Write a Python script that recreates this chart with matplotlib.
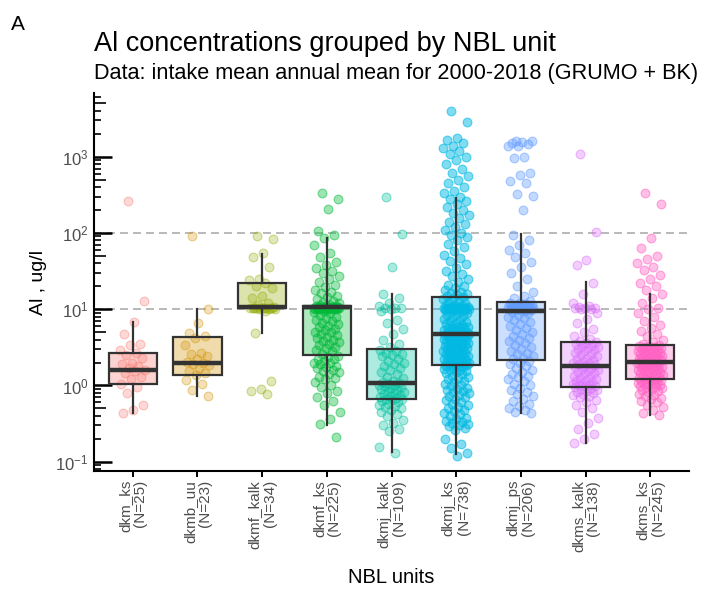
import numpy as np
import matplotlib.pyplot as plt
import matplotlib.colors as mcolors
from matplotlib.ticker import LogLocator, NullLocator, NullFormatter

plt.rcParams['font.family'] = ['Liberation Sans', 'DejaVu Sans']
plt.rcParams['mathtext.default'] = 'regular'

units = ["dkm_ks", "dkmb_uu", "dkmf_kalk", "dkmf_ks", "dkmj_kalk",
         "dkmj_ks", "dkmj_ps", "dkms_kalk", "dkms_ks"]
n_obs = [25, 23, 34, 225, 109, 738, 206, 138, 245]
colors = ["#F8766D", "#D39200", "#93AA00", "#00BA38", "#00C19F",
          "#00B9E3", "#619CFF", "#DB72FB", "#FF61C3"]

# box statistics (ug/l)
q1 = [1.04, 1.39, 10.3, 2.52, 0.655, 1.83, 2.15, 0.96, 1.20]
med = [1.59, 2.00, 10.6, 10.6, 1.08, 4.67, 9.5, 1.81, 2.04]
q3 = [2.65, 4.26, 21.8, 11.0, 3.02, 14.3, 12.4, 3.73, 3.38]
whislo = [0.44, 0.73, 4.9, 0.30, 0.134, 0.128, 0.44, 0.174, 0.41]
whishi = [6.7, 10.2, 52.8, 85, 15.7, 284, 95.6, 22.5, 16.0]

# observations (approximate readings, ug/l)
al_dkm_ks = [261, 12.8, 6.8, 4.75, 3.5, 3.4, 2.9, 2.7, 2.5, 2.3, 2.0, 1.9, 1.8,
             1.7, 1.6, 1.55, 1.45, 1.3, 1.2, 1.05, 0.95, 0.8, 0.55, 0.48, 0.44]
al_dkmb_uu = [92, 10.2, 6.6, 4.9, 4.4, 4.2, 3.4, 2.7, 2.6, 2.4, 2.2, 2.05, 2.0,
              1.9, 1.85, 1.7, 1.55, 1.45, 1.38, 1.17, 1.05, 0.87, 0.73]
al_dkmf_kalk = [91, 83, 55, 48, 36, 25, 24, 22, 20, 19, 15, 14, 12, 11.5, 10.6,
                10.5, 10.5, 10.5, 10.5, 10.5, 10.5, 10.5, 10.5, 10.4, 10.3, 10.2,
                10.2, 10.0, 9.5, 4.9, 1.15, 0.9, 0.85, 0.77]
al_dkmf_ks = [330, 277, 208, 107, 95, 85, 70, 55, 48, 42, 38, 35, 32, 30, 27, 25,
              23, 21, 19.6, 18, 17, 16.5, 15, 14.5, 13.5, 13, 12.5, 12, 11.5, 11.2,
              11, 11, 10.9, 10.8, 10.8, 10.7, 10.7, 10.6, 10.6, 10.6, 10.5, 10.5,
              10.5, 10.5, 10.5, 10.5, 10.5, 10.5, 10.4, 10.4, 10.3, 10.3, 10.2,
              10.2, 10.1, 10.1, 10.0, 10.0, 10.0, 10.0,
              9.6, 9.1, 8.8, 8.3, 8.0, 7.7, 7.2, 7.0, 6.6, 6.4, 6.0, 5.9, 5.5, 5.4,
              5.1, 5.0, 4.7, 4.6, 4.3, 4.2, 4.0, 3.8, 3.7, 3.5, 3.4, 3.2, 3.1, 2.9,
              2.8, 2.6,
              2.45, 2.35, 2.25, 2.2, 2.1, 2.0, 1.95, 1.9, 1.8, 1.75, 1.7, 1.6, 1.55,
              1.5, 1.4, 1.3, 1.25, 1.2, 1.1, 1.0, 0.95, 0.85, 0.8, 0.7, 0.62, 0.55,
              0.45, 0.36, 0.31, 0.21]
al_dkmj_kalk = [293, 96, 36, 16, 14, 12, 11, 10.5, 10.5, 10.4, 10, 9.5, 7.2, 6.5,
                5.5, 4.7, 4.0, 3.5, 3.2,
                2.9, 2.8, 2.7, 2.6, 2.5, 2.4, 2.2, 2.1, 2.0, 1.9, 1.8, 1.7, 1.6,
                1.5, 1.4, 1.3, 1.25, 1.15, 1.1,
                1.07, 1.05, 1.03, 1.0, 0.98, 0.95, 0.93, 0.9, 0.88, 0.85, 0.82, 0.8,
                0.78, 0.75, 0.73, 0.7, 0.68, 0.67, 0.66,
                0.64, 0.62, 0.6, 0.58, 0.56, 0.54, 0.52, 0.5, 0.48, 0.45, 0.42, 0.4,
                0.35, 0.32, 0.3, 0.27, 0.25, 0.157, 0.13]
al_dkmj_ks = [4000, 2820, 1740, 1650, 1500, 1400, 1300, 1200, 1100, 1000, 900,
              800, 700, 620, 560, 500, 450, 400, 360, 330, 300, 280, 260, 240,
              220, 200, 185, 170, 155, 140, 130, 120, 110, 100, 95, 88, 80, 72, 65,
              58, 52, 47, 43, 39, 35, 32, 29, 27, 25, 23, 21, 20, 19, 18, 17, 16.5,
              16, 15.5, 15, 14.6,
              14, 13.5, 13, 12.5, 12, 11.5, 11.2, 11, 10.8, 10.7, 10.6, 10.5, 10.5,
              10.5, 10.5, 10.5, 10.5, 10.4, 10.3, 10.2, 10.1, 10, 10, 10, 10, 9.9,
              9.8, 9.7, 9.5, 9.2, 9, 8.7, 8.4, 8.1, 7.8, 7.5, 7.2, 7.0, 6.8, 6.6,
              6.4, 6.2, 6.0, 5.9, 5.8, 5.7, 5.6, 5.5, 5.4, 5.3, 5.2, 5.1, 5.0, 4.95,
              4.9, 4.85, 4.8, 4.75, 4.7, 4.68,
              4.6, 4.55, 4.5, 4.45, 4.4, 4.35, 4.3, 4.25, 4.2, 4.1, 4.0, 3.95, 3.9,
              3.8, 3.75, 3.7, 3.65, 3.6, 3.5, 3.45, 3.4, 3.35, 3.3, 3.25, 3.2, 3.1,
              3.05, 3.0, 2.95, 2.9, 2.85, 2.8, 2.75, 2.7, 2.65, 2.6, 2.55, 2.5,
              2.45, 2.4, 2.35, 2.3, 2.27, 2.24, 2.2, 2.17, 2.14, 2.1, 2.07, 2.04,
              2.0, 1.98, 1.96, 1.94, 1.92, 1.9, 1.88, 1.86, 1.85, 1.84,
              1.8, 1.78, 1.75, 1.7, 1.65, 1.62, 1.6, 1.55, 1.5, 1.45, 1.4, 1.35,
              1.3, 1.25, 1.2, 1.15, 1.1, 1.05, 1.0, 0.97, 0.94, 0.91, 0.88, 0.85,
              0.82, 0.79, 0.76, 0.73, 0.7, 0.67, 0.64, 0.61, 0.58, 0.55, 0.52, 0.5,
              0.48, 0.46, 0.44, 0.42, 0.4, 0.38, 0.36, 0.34, 0.33, 0.32, 0.31, 0.3,
              0.29, 0.28, 0.26, 0.2, 0.17, 0.15, 0.13, 0.12]
al_dkmj_ps = [1620, 1600, 1550, 1500, 1450, 1400, 1380, 1000, 960, 620, 580, 480,
              450, 320, 310, 200, 95, 80, 70, 60, 55, 48, 42, 36, 30, 25, 20, 17,
              15, 14, 13,
              12.2, 12, 11.8, 11.5, 11.2, 11, 10.9, 10.8, 10.7, 10.6, 10.5, 10.5,
              10.5, 10.5, 10.5, 10.5, 10.5, 10.5, 10.4, 10.3, 10.2, 10.1, 10, 9.9,
              9.8, 9.7, 9.6,
              9.2, 8.8, 8.4, 8, 7.6, 7.2, 6.8, 6.4, 6.0, 5.7, 5.4, 5.1, 4.8, 4.5,
              4.2, 4.0, 3.8, 3.6, 3.4, 3.2, 3.0, 2.85, 2.7, 2.55, 2.4, 2.3, 2.2,
              2.1, 2.0, 1.9, 1.8, 1.7, 1.6, 1.5, 1.42, 1.35, 1.28, 1.2, 1.13, 1.06,
              1.0, 0.94, 0.88, 0.82, 0.77, 0.72, 0.67, 0.62, 0.58, 0.54, 0.5, 0.47,
              0.45, 0.44]
al_dkms_kalk = [1100, 103, 44, 38, 22, 16, 12, 11, 10.7, 10.5, 10.5, 10.4, 10.2,
                10, 9, 7.5, 6.5, 5.5, 5, 4.5, 4.1, 3.8,
                3.7, 3.6, 3.5, 3.4, 3.3, 3.2, 3.1, 3.0, 2.9, 2.8, 2.7, 2.6, 2.5,
                2.4, 2.3, 2.2, 2.15, 2.1, 2.0, 1.95, 1.9, 1.85,
                1.78, 1.75, 1.7, 1.65, 1.6, 1.55, 1.5, 1.45, 1.4, 1.35, 1.3, 1.25,
                1.2, 1.17, 1.14, 1.1, 1.07, 1.04, 1.02, 1.0, 0.98, 0.97,
                0.95, 0.92, 0.9, 0.88, 0.85, 0.82, 0.8, 0.78, 0.75, 0.72, 0.7, 0.65,
                0.6, 0.55, 0.5, 0.45, 0.38, 0.32, 0.27, 0.23, 0.2, 0.174]
al_dkms_ks = [330, 240, 85, 63, 50, 45, 40, 36, 33, 28, 25, 22, 20, 18, 16, 14,
              12, 10.5, 10, 9, 8, 7, 6.3, 5.7, 5.2, 4.8, 4.4, 4.0, 3.7, 3.5,
              3.35, 3.3, 3.25, 3.2, 3.15, 3.1, 3.05, 3.0, 2.95, 2.9, 2.85, 2.8,
              2.75, 2.7, 2.65, 2.6, 2.55, 2.5, 2.45, 2.4, 2.35, 2.3, 2.27, 2.24,
              2.2, 2.17, 2.14, 2.1, 2.08, 2.06,
              2.02, 2.0, 1.97, 1.94, 1.91, 1.88, 1.85, 1.82, 1.79, 1.76, 1.73, 1.7,
              1.67, 1.64, 1.61, 1.58, 1.55, 1.52, 1.49, 1.46, 1.43, 1.4, 1.37,
              1.34, 1.31, 1.28, 1.26, 1.24, 1.22, 1.21,
              1.19, 1.17, 1.15, 1.13, 1.11, 1.09, 1.07, 1.05, 1.03, 1.01, 0.99,
              0.97, 0.95, 0.93, 0.9, 0.87, 0.84, 0.81, 0.78, 0.75, 0.72, 0.69,
              0.66, 0.63, 0.6, 0.56, 0.52, 0.48, 0.44, 0.41]

groups = [al_dkm_ks, al_dkmb_uu, al_dkmf_kalk, al_dkmf_ks, al_dkmj_kalk,
          al_dkmj_ks, al_dkmj_ps, al_dkms_kalk, al_dkms_ks]

fig = plt.figure(figsize=(7.02, 5.89), dpi=100)
ax = fig.add_axes([0.1339, 0.2008, 0.8476, 0.6408])

ax.set_yscale('log')
ax.set_ylim(10 ** -1.118, 10 ** 3.832)
ax.set_xlim(0.4, 9.6)

# reference lines
for ref in [10, 100]:
    ax.axhline(ref, color='#b3b3b3', lw=1.3, ls=(0, (4.4, 2.8)), zorder=1)

# jittered points; listed points are a thinned reading, so denser groups get
# a bit more opacity
for i, vals in enumerate(groups):
    v = np.array(vals, dtype=float)
    k = np.arange(len(v))
    off = ((k * 0.6180339887 + 0.3) % 1.0 - 0.5) * 0.4
    a = min(0.28 * (n_obs[i] / len(v)) ** 0.5, 0.5)
    ax.scatter(i + 1 + off, v, s=40, facecolor=mcolors.to_rgba(colors[i], a),
               edgecolor=mcolors.to_rgba(colors[i], min(a + 0.12, 0.6)),
               linewidths=0.8, zorder=2)

# boxes
stats = []
for i in range(len(units)):
    stats.append(dict(q1=q1[i], med=med[i], q3=q3[i], whislo=whislo[i],
                      whishi=whishi[i], fliers=[]))
bp = ax.bxp(stats, positions=range(1, 10), widths=0.75, patch_artist=True,
            showcaps=False, showfliers=False, manage_ticks=False,
            boxprops=dict(edgecolor='#333333', linewidth=1.6),
            whiskerprops=dict(color='#333333', linewidth=1.6),
            medianprops=dict(color='#333333', linewidth=3.2, solid_capstyle='butt'),
            zorder=3)
for patch, c in zip(bp['boxes'], colors):
    patch.set_facecolor(mcolors.to_rgba(c, 0.32))

# axes styling
for s in ['top', 'right']:
    ax.spines[s].set_visible(False)
for s in ['left', 'bottom']:
    ax.spines[s].set_linewidth(1.5)
    ax.spines[s].set_color('black')
    ax.spines[s].set_zorder(4)

ax.set_yticks([0.1, 1, 10, 100, 1000],
              labels=['$10^{-1}$', '$10^{0}$', '$10^{1}$', '$10^{2}$', '$10^{3}$'])
ax.yaxis.set_minor_locator(LogLocator(base=10, subs=[2, 3, 4, 6, 7, 8, 9], numticks=20))
ax.yaxis.set_minor_formatter(NullFormatter())
ax.tick_params(axis='y', which='major', direction='in', length=13, width=1.8,
               color='black', labelsize=12, labelcolor='#4D4D4D', pad=4)
ax.tick_params(axis='y', which='minor', direction='in', length=5, width=1.2,
               color='black')

# mid-length log ticks at 5 x 10^k
sec = ax.secondary_yaxis('left')
sec.set_yticks([0.5, 5, 50, 500, 5000])
sec.yaxis.set_minor_locator(NullLocator())
sec.tick_params(axis='y', direction='in', length=8.6, width=1.2, labelleft=False)
sec.spines['left'].set_visible(False)

ax.set_xticks(range(1, 10), labels=[f"{u}\n(N={n})" for u, n in zip(units, n_obs)])
for lab in ax.get_xticklabels():
    lab.set_rotation(90)
    lab.set_multialignment('right')
    lab.set_linespacing(1.1)
ax.tick_params(axis='x', direction='out', length=4.5, width=1.4,
               labelsize=11, labelcolor='#4D4D4D', pad=2)

ax.set_ylabel('Al , ug/l', fontsize=14, labelpad=6)
ax.set_xlabel('NBL units', fontsize=14.5, labelpad=12)

fig.text(0.016, 0.975, 'A', fontsize=15, va='top', ha='left')
fig.text(0.1339, 0.926, 'Al concentrations grouped by NBL unit', fontsize=19.5,
         va='center', ha='left')
fig.text(0.1339, 0.875, 'Data: intake mean annual mean for 2000-2018 (GRUMO + BK)',
         fontsize=15.6, va='center', ha='left')

fig.savefig('out.png', dpi=100)
